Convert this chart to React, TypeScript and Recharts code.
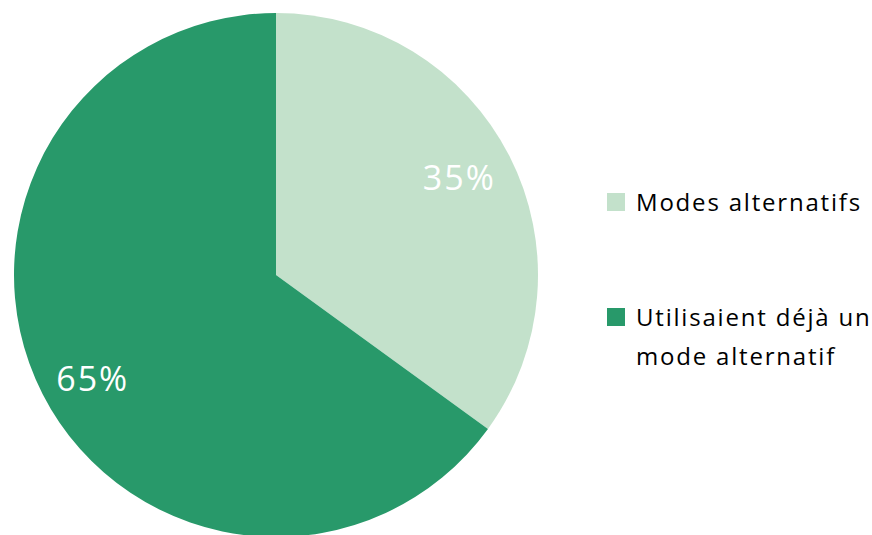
import { PieChart, Pie, Cell, Legend } from "recharts";

const LABELS = ["Modes alternatifs", "Utilisaient déjà un mode alternatif"];
const VALUES = [35, 65];
const COLORS = ["#c3e1cb", "#28996a"];
// small nudges so the % labels sit where the original puts them
const LABEL_DY = [-5, 10];

const data = LABELS.map((name, i) => ({ name, value: VALUES[i] }));
const RAD = Math.PI / 180;
const FONT = "'Open Sans', Lato, sans-serif";

const renderLabel = (props: any) => {
  const { cx, cy, midAngle, outerRadius, value, index } = props;
  const r = outerRadius * 0.785;
  const x = cx + r * Math.cos(-midAngle * RAD);
  const y = cy + r * Math.sin(-midAngle * RAD) + LABEL_DY[index];
  return (
    <text
      x={x}
      y={y}
      fill="#ffffff"
      textAnchor="middle"
      dominantBaseline="central"
      fontSize={34}
      letterSpacing={2}
      fontFamily={FONT}
    >
      {`${value}%`}
    </text>
  );
};

const renderLegend = () => (
  <div style={{ fontFamily: FONT, fontSize: 24, letterSpacing: 1.8, color: "#000", width: 265 }}>
    {data.map((d, i) => (
      <div key={d.name} style={{ display: "flex", alignItems: "flex-start", marginBottom: i === 0 ? 76 : 0 }}>
        <div style={{ width: 18, height: 18, background: COLORS[i], marginTop: 11, marginRight: 11, flexShrink: 0 }} />
        <div style={{ lineHeight: "39px", width: 240 }}>{d.name}</div>
      </div>
    ))}
  </div>
);

export default function App() {
  return (
    <div style={{ position: "absolute", left: 0, top: 0, width: 872, height: 535, background: "#fff" }}>
      <PieChart width={872} height={535} margin={{ top: 0, right: 0, bottom: 0, left: 0 }}>
        <Pie
          data={data}
          dataKey="value"
          nameKey="name"
          cx={276}
          cy={275}
          outerRadius={262}
          startAngle={90}
          endAngle={-270}
          stroke="none"
          label={renderLabel}
          labelLine={false}
          isAnimationActive={false}
        >
          {data.map((d, i) => (
            <Cell key={d.name} fill={COLORS[i]} />
          ))}
        </Pie>
        <Legend
          content={renderLegend}
          wrapperStyle={{ position: "absolute", left: 607, top: 182, width: 265 }}
        />
      </PieChart>
    </div>
  );
}
